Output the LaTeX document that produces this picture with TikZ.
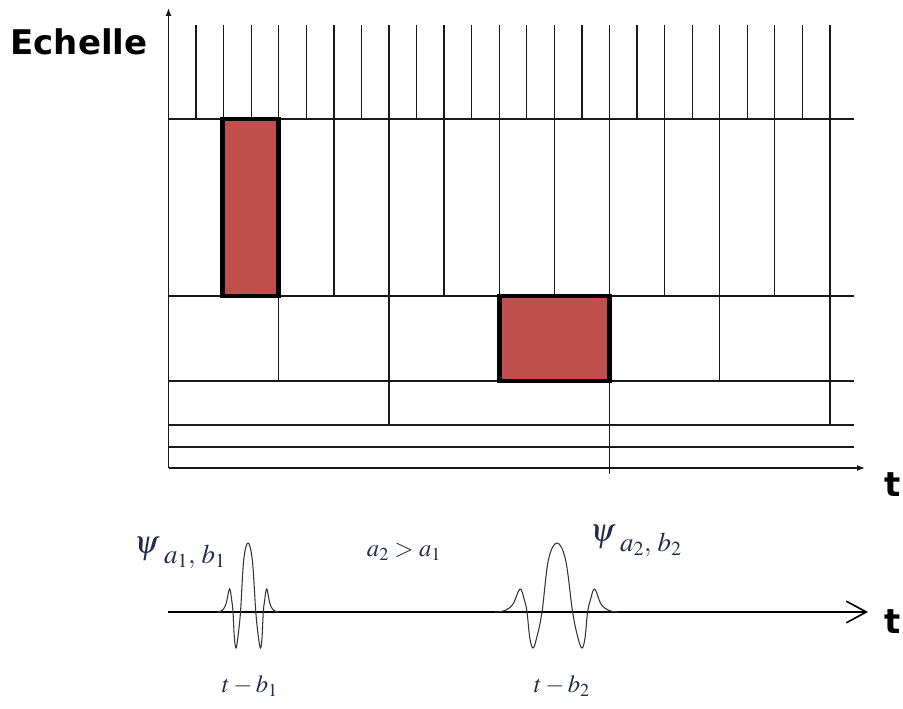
\documentclass[tikz,border=0pt]{standalone}
\usepackage{mathptmx}
\usepackage{fontspec}
\usepackage{tikz}
\usetikzlibrary{arrows.meta}
\newfontfamily\echellefont{DejaVu Sans}
\definecolor{BoxRed}{RGB}{192,80,77}
\definecolor{LabelInk}{RGB}{35,45,75}
\newcommand{\ondelette}{plot[smooth,tension=0.6] coordinates {
  (-31,0) (-26,-1.5) (-22,-8) (-18.5,-23) (-16.3,-12) (-15,0) (-13.6,26)
  (-12,36) (-10.2,26) (-7.5,0) (-4.3,-52) (0,-69) (4.3,-52) (7.8,0)
  (10.5,26) (12.5,36) (14,26) (15.3,0) (16.7,-12) (18.8,-23) (22,-8)
  (26,-1.5) (31,0)}}
\newcommand{\indice}[1]{\hspace{4pt}\raisebox{-8pt}{\fontsize{23}{24}\selectfont$#1$}}
\tikzset{
  grille/.style={line width=1.1pt,black!90},
  boite/.style={fill=BoxRed,draw=black,line width=4.2pt},
  onde/.style={line width=0.9pt,black!80},
  etiquette/.style={text=LabelInk,font=\fontsize{21}{22}\selectfont,inner sep=0pt},
  titre/.style={font=\echellefont\bfseries\fontsize{29}{30}\selectfont,inner sep=0pt}
}

\begin{document}
\begin{tikzpicture}[x=0.03cm,y=-0.03cm,>=Latex]
  \useasboundingbox (0,0) rectangle (903,709);
  \coordinate (origine) at (168.5,468);
  \coordinate (haut) at (168.5,8);
  \coordinate (finT) at (865,468);
  \coordinate (depart) at (168,612);
  \coordinate (fin) at (868,612);
  % grille echelle / temps
  \foreach \y in {119,296,381,425,447}
    \draw[grille] (168.5,\y) -- (854,\y);
  \foreach \k in {1,...,24}
    \draw[grille] ({168.5+27.56*\k},25) -- ({168.5+27.56*\k},119);
  \foreach \k in {2,4,...,24}
    \draw[grille] ({168.5+27.56*\k},119) -- ({168.5+27.56*\k},296);
  \foreach \k in {4,8,...,24}
    \draw[grille] ({168.5+27.56*\k},296) -- ({168.5+27.56*\k},381);
  \foreach \k in {8,16,24}
    \draw[grille] ({168.5+27.56*\k},381) -- ({168.5+27.56*\k},425);
  \draw[grille] ({168.5+27.56*16},425) -- ({168.5+27.56*16},474);
  \draw[grille,-{Latex[length=2.4mm,width=1.8mm]}] (origine) -- (haut);
  \draw[grille,-{Latex[length=2.4mm,width=1.8mm]}] (origine) -- (finT);
  % boites
  \draw[boite] ({168.5+27.56*2-1.5},119) rectangle ({168.5+27.56*4},296);
  \draw[boite] ({168.5+27.56*12},296) rectangle ({168.5+27.56*16},381);
  \node[titre] (echelle) at (79,42) {Echelle};
  \node[titre] (tA) at (893,485) {t};
  % ondelettes
  \draw[line width=1.4pt,-{Straight Barb[length=6mm,width=6.5mm]}] (depart) -- (fin);
  \draw[onde,shift={(248,612)}] \ondelette;
  \draw[onde,shift={(557,612)},xscale=2] \ondelette;
  \node[titre] (tB) at (893,622) {t};
  \node[etiquette,anchor=west] (psiA) at (134,553)
    {{\fontsize{28}{28}\selectfont$\psi$}\indice{a_1,\,b_1}};
  \node[etiquette] (comp) at (404,552) {$a_2>a_1$};
  \node[etiquette] (tbA) at (250,686) {$t-b_1$};
  \node[etiquette] (tbB) at (562,686) {$t-b_2$};
  \node[etiquette,anchor=west] (psiB) at (590,541)
    {{\fontsize{28}{28}\selectfont$\psi$}\indice{a_2,\,b_2}};
\end{tikzpicture}
\end{document}
